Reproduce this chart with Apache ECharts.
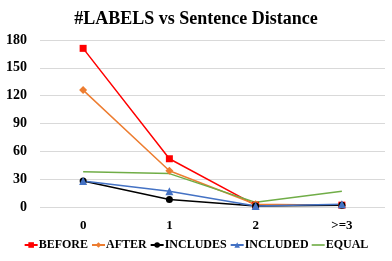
<!DOCTYPE html>
<html><head><meta charset="utf-8">
<script src="https://cdn.jsdelivr.net/npm/echarts@6/dist/echarts.min.js"></script>
<style>html,body{margin:0;padding:0;background:#fff}#c{width:392px;height:261px}</style>
</head><body><div id="c"></div>
<script>
const categories = ['0', '1', '2', '>=3'];
const yTicks = [0, 30, 60, 90, 120, 150, 180];
const before = [171, 52, 2, 2];
const after = [126, 39, 3, 2];
const includes = [28, 8, 1, 2];
const included = [28, 17, 1, 3];
const equal = [38, 36, 5, 17];
const seriesNames = ['BEFORE', 'AFTER', 'INCLUDES', 'INCLUDED', 'EQUAL'];

const font = 'Liberation Serif, Times New Roman, serif';
const chart = echarts.init(document.getElementById('c'));
function s(name, data, color, symbol, size) {
  return {
    name, type: 'line', data, symbol: symbol || 'none', symbolSize: size || 7,
    showSymbol: !!symbol,
    lineStyle: { color, width: 1.5 }, itemStyle: { color }
  };
}
chart.setOption({
  animation: false,
  title: { text: '#LABELS vs Sentence Distance', left: 'center', top: 5,
    textStyle: { fontFamily: font, fontWeight: 'bold', fontSize: 18, color: '#000' } },
  legend: { bottom: 5, left: 'center', itemGap: 3, itemWidth: 13, itemHeight: 7,
    data: seriesNames.map(n => n === 'EQUAL' ? { name: n, icon: 'path://M0,0h16v2h-16z' } : n),
    textStyle: { fontFamily: font, fontWeight: 'bold', fontSize: 12, color: '#000', padding: [0,0,0,-4] } },
  grid: { left: 40, right: 7, top: 40, bottom: 54 },
  xAxis: { type: 'category', data: categories, boundaryGap: true,
    axisLine: { show: false }, axisTick: { show: false },
    axisLabel: { fontFamily: font, fontWeight: 'bold', fontSize: 13, color: '#000', margin: 12 } },
  yAxis: { type: 'value', min: 0, max: 180, interval: 30,
    axisLine: { show: false }, axisTick: { show: false },
    splitLine: { lineStyle: { color: '#d9d9d9' } },
    axisLabel: { fontFamily: font, fontWeight: 'bold', fontSize: 14, color: '#000', margin: 13 } },
  series: [
    s('BEFORE', before, '#ff0000', 'rect', 7),
    s('AFTER', after, '#ed7d31', 'diamond', 8),
    s('INCLUDES', includes, '#000000', 'circle', 7),
    s('INCLUDED', included, '#4472c4', 'triangle', 8),
    s('EQUAL', equal, '#70ad47', null)
  ]
});
</script></body></html>
